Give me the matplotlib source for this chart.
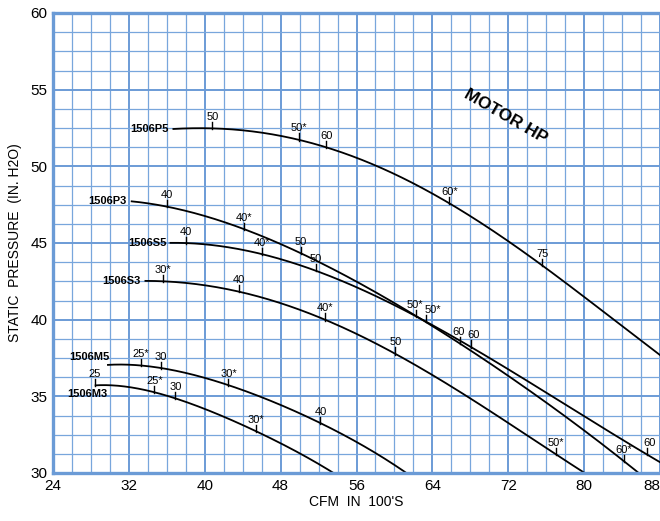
"""Fan performance curves: static pressure vs CFM for the 1506 series"""
import numpy as np
import matplotlib
matplotlib.use("Agg")
import matplotlib.pyplot as plt

plt.rcParams['font.family'] = ['Liberation Sans', 'DejaVu Sans']

# curve data (CFM in 100's, static pressure in inches H2O)
p5_cfm = [36.6, 40.8, 45.0, 49.9, 52.8, 56.5, 60.0, 65.8, 69.8, 75.6, 80.0, 87.7, 89.0]
p5_sp = [52.5, 52.4, 52.15, 51.8, 51.4, 50.5, 49.4, 47.5, 46.0, 43.6, 41.5, 37.85, 37.2]

p3_cfm = [32.2, 36.0, 40.0, 44.1, 47.8, 50.1, 53.0, 56.5, 60.1, 62.5, 64.0, 68.0, 72.0, 77.2, 84.2, 86.2]
p3_sp = [47.7, 47.35, 46.8, 46.05, 45.0, 44.35, 43.25, 42.15, 41.0, 40.3, 39.75, 38.1, 36.3, 33.9, 30.8, 29.8]

s5_cfm = [36.3, 38.0, 42.6, 46.0, 51.7, 56.5, 60.1, 63.3, 68.0, 72.0, 77.2, 82.0, 86.6, 89.0]
s5_sp = [45.0, 45.0, 44.7, 44.35, 43.1, 41.95, 40.95, 39.95, 38.25, 36.7, 34.8, 32.9, 31.3, 30.3]

s3_cfm = [33.65, 35.6, 39.0, 43.6, 47.8, 52.7, 56.5, 60.1, 64.6, 70.0, 77.0, 80.2]
s3_sp = [42.55, 42.5, 42.3, 41.8, 41.1, 40.1, 38.9, 37.8, 36.1, 34.0, 31.4, 29.85]

m5_cfm = [29.7, 33.3, 35.4, 38.5, 42.5, 47.0, 52.2, 56.0, 61.5]
m5_sp = [37.05, 37.0, 36.85, 36.45, 35.75, 34.65, 33.3, 32.0, 29.9]

m3_cfm = [28.4, 31.0, 34.7, 36.9, 41.0, 45.4, 49.5, 53.8]
m3_sp = [35.75, 35.6, 35.25, 35.0, 33.85, 32.7, 31.5, 29.9]

# motor HP marks along each curve
p5_hp_cfm = [40.8, 49.9, 52.8, 65.8, 75.6]
p5_hp = ['50', '50*', '60', '60*', '75']
p3_hp_cfm = [36.0, 44.1, 50.1, 62.3, 66.9, 84.2]
p3_hp = ['40', '40*', '50', '50*', '60', '60*']
s5_hp_cfm = [38.0, 46.0, 51.7, 63.3, 68.05, 86.6]
s5_hp = ['40', '40*', '50', '50*', '60', '60']
s3_hp_cfm = [35.6, 43.6, 52.7, 60.1, 77.0]
s3_hp = ['30*', '40', '40*', '50', '50*']
m5_hp_cfm = [33.3, 35.4, 42.5, 52.2]
m5_hp = ['25*', '30', '30*', '40']
m3_hp_cfm = [28.4, 34.7, 36.9, 45.4]
m3_hp = ['25', '25*', '30', '30*']

curve_names = ['1506P5', '1506P3', '1506S5', '1506S3', '1506M5', '1506M3']

x_ticks = [24, 32, 40, 48, 56, 64, 72, 80, 88]
y_ticks = [30, 35, 40, 45, 50, 55, 60]

GRID = '#78a6dc'
SPINE = '#6b9bd6'


def smooth(x, y, n=300):
    """Least squares quartic through the read points, so the stroke is smooth"""
    coef = np.polyfit(x, y, 4)
    xs = np.linspace(x[0], x[-1], n)
    return xs, np.polyval(coef, xs)


def plot():
    """Draw the chart and save it"""
    curves = [
        (p5_cfm, p5_sp, p5_hp_cfm, p5_hp),
        (p3_cfm, p3_sp, p3_hp_cfm, p3_hp),
        (s5_cfm, s5_sp, s5_hp_cfm, s5_hp),
        (s3_cfm, s3_sp, s3_hp_cfm, s3_hp),
        (m5_cfm, m5_sp, m5_hp_cfm, m5_hp),
        (m3_cfm, m3_sp, m3_hp_cfm, m3_hp),
    ]
    # offsets (points) of the model name from the curve start
    name_offsets = [(-3, 0), (-3, 0), (-2, 0), (-3, 0), (2, 6), (9, -6)]
    # small sideways nudges for crowded HP labels
    hp_nudge = {('1506P3', '50*'): -1, ('1506S5', '50*'): 5,
                ('1506S5', '60'): 2, ('1506P3', '60'): -1}

    fig = plt.figure(figsize=(6.6, 5.21), dpi=100)
    ax = fig.add_axes([53 / 660, 1 - 473 / 521, 1 - 53 / 660, 460 / 521])
    ax.set_xlim(24, 88)
    ax.set_ylim(30, 60)

    ax.set_xticks(x_ticks)
    ax.set_yticks(y_ticks)
    ax.set_xticks(np.arange(24, 89, 2), minor=True)
    ax.set_yticks(np.arange(30, 60.01, 1.25), minor=True)
    ax.grid(which='minor', color=GRID, linewidth=0.9)
    ax.grid(which='major', color=SPINE, linewidth=1.4)
    ax.set_axisbelow(True)
    ax.tick_params(which='both', length=0, labelsize=11, pad=4)
    labels = ax.set_xticklabels([str(t) for t in x_ticks])
    labels[-1].set_horizontalalignment('right')

    for side in ['left', 'bottom', 'top']:
        ax.spines[side].set_color(SPINE)
        ax.spines[side].set_linewidth(2.4)
    ax.spines['right'].set_visible(False)

    for (cfm, sp, hp_cfm, hp), name, off in zip(curves, curve_names, name_offsets):
        xs, ys = smooth(cfm, sp)
        ax.plot(xs, ys, color='black', linewidth=1.3, solid_capstyle='butt')
        ax.annotate(name, (xs[0], ys[0]), xytext=off, textcoords='offset points',
                    ha='right', va='center', fontsize=8, fontweight='bold')
        for x, lab in zip(hp_cfm, hp):
            y = np.interp(x, xs, ys)
            ax.plot([x, x], [y - 0.05, y + 0.42], color='black', linewidth=1.0)
            ax.annotate(lab, (x, y + 0.42), xytext=(hp_nudge.get((name, lab), 0), 0),
                        textcoords='offset points', ha='center', va='bottom',
                        fontsize=8)

    ax.text(0.745, 0.775, 'MOTOR HP', transform=ax.transAxes, rotation=-30,
            ha='center', va='center', fontsize=12.5, fontweight='bold')

    ax.set_xlabel("CFM  IN  100'S", fontsize=10, labelpad=2)
    ax.set_ylabel('STATIC  PRESSURE  (IN. H2O)', fontsize=10, labelpad=6)

    fig.savefig('out.png', dpi=100)


if __name__ == "__main__":
    plot()
